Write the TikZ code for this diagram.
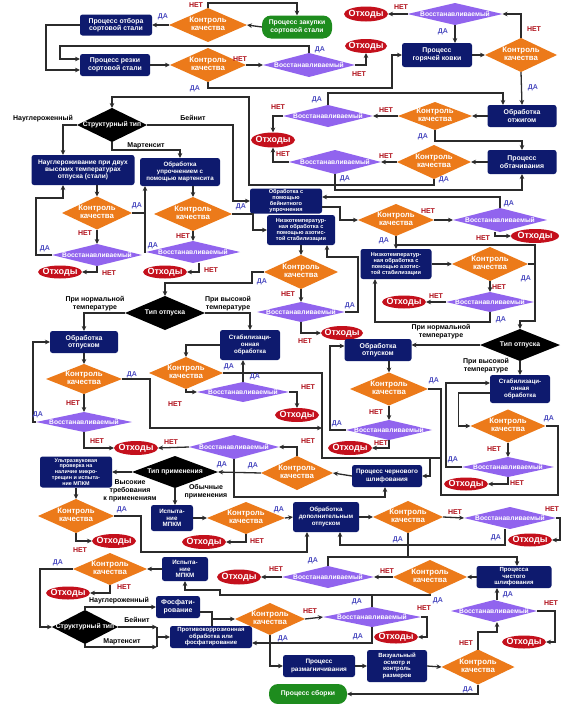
\documentclass[tikz,border=0pt]{standalone}
\usepackage{fontspec}
\setmainfont{Liberation Sans}
\usetikzlibrary{shapes.geometric,arrows.meta,calc}
\definecolor{navy}{HTML}{0E1A6E}
\definecolor{org}{HTML}{EC7A1A}
\definecolor{prp}{HTML}{9164EE}
\definecolor{wred}{HTML}{C4101C}
\definecolor{grn}{HTML}{1E8C1E}
\definecolor{lgray}{HTML}{2B2B2B}
\definecolor{yblue}{HTML}{4B4BC0}
\definecolor{nred}{HTML}{B0101A}
\newcommand{\zc}[1]{\makebox[0pt]{\begin{tabular}{@{}c@{}}#1\end{tabular}}}
\newcommand{\qctext}{\zc{Контроль\\качества}}
\newcommand{\rsttext}{\makebox[0pt]{Восстанавливаемый}}
\newcommand{\wtext}{\makebox[0pt]{Отходы}}
\tikzset{
  wh/.style 2 args={minimum width=#1pt, minimum height=#2pt},
  base/.style={inner sep=0pt, outer sep=0pt, align=center, text=white},
  box/.style={base, rectangle, rounded corners=2.5pt, fill=navy, font=\bfseries\fontsize{6.9}{7.6}\selectfont},
  mbox/.style={box, font=\bfseries\fontsize{6.4}{7.2}\selectfont},
  sbox/.style={box, font=\bfseries\fontsize{6.2}{6.7}\selectfont},
  tbox/.style={box, font=\bfseries\fontsize{5.6}{6}\selectfont},
  gbox/.style={box, fill=grn, rounded corners=9pt, font=\bfseries\fontsize{6.8}{7.6}\selectfont},
  qc/.style={base, diamond, shape aspect=2.5, fill=org, font=\bfseries\fontsize{7.8}{8.4}\selectfont},
  rst/.style={base, diamond, shape aspect=4, fill=prp, font=\bfseries\fontsize{6.7}{7}\selectfont},
  typ/.style={base, diamond, shape aspect=2, fill=black, font=\bfseries\fontsize{6.8}{7.4}\selectfont},
  waste/.style={base, ellipse, fill=wred, font=\bfseries\fontsize{9}{9.5}\selectfont},
  yes/.style={inner sep=0pt, text=yblue, font=\bfseries\fontsize{7}{8}\selectfont},
  no/.style={inner sep=0pt, text=nred, font=\bfseries\fontsize{7}{8}\selectfont},
  lbl/.style={inner sep=0pt, align=center, font=\bfseries\fontsize{7}{7.8}\selectfont},
  ln/.style={draw=lgray, line width=1.3pt},
  arr/.style={ln, -{Stealth[length=5pt,width=4.6pt]}},
}
\begin{document}
\begin{tikzpicture}[x=1pt,y=-1pt]
\fill[white] (0,0) rectangle (562,704);
\useasboundingbox (0,0) rectangle (562,704);

% ---------- nodes: top ----------
\node[box,wh={72}{21}] (B1) at (116,25) {Процесс отбора\\сортовой стали};
\node[gbox,wh={70}{23}] (G1) at (297,27) {Процесс закупки\\сортовой стали};
\node[qc,wh={78}{34}] (D1) at (208,25) {\qctext};
\node[waste,wh={44}{15}] (R1) at (366,14) {\wtext};
\node[rst,wh={95}{22}] (P1) at (455,14) {\rsttext};
\node[box,wh={70}{22}] (B2) at (115,65) {Процесс резки\\сортовой стали};
\node[qc,wh={76}{34}] (D2) at (208,65) {\qctext};
\node[rst,wh={92}{24}] (P2) at (309,65) {\rsttext};
\node[waste,wh={42}{14}] (R2) at (366,46) {\wtext};
\node[box,wh={70}{24}] (B3) at (437,55) {Процесс\\горячей ковки};
\node[qc,wh={72}{34}] (D3) at (521,55) {\qctext};
\node[box,wh={69}{22}] (B4) at (522,116) {Обработка\\отжигом};
\node[qc,wh={74}{28}] (D4) at (435,116) {\qctext};
\node[rst,wh={90}{22}] (P3) at (328,116) {\rsttext};
\node[waste,wh={44}{15}] (R3) at (273,140) {\wtext};
\node[rst,wh={92}{24}] (P4) at (335,162) {\rsttext};
\node[qc,wh={74}{34}] (D5) at (434,162) {\qctext};
\node[box,wh={69}{24}] (B5) at (522,162) {Процесс\\обтачивания};

% ---------- structural type ----------
\node[typ,wh={70}{34}] (K1) at (112,125) {\makebox[0pt]{Структурный тип}};
\node[box,wh={103}{30},font=\bfseries\fontsize{6.6}{7.4}\selectfont] (B6) at (83,170) {Науглероживание при двух\\высоких температурах\\отпуска (стали)};
\node[sbox,wh={80}{28}] (B7) at (180,172) {Обработка\\упрочнением с\\помощью мартенсита};
\node[tbox,wh={72}{25}] (B8) at (286,201) {Обработка с\\помощью\\бейнитного\\упрочнения};
\node[qc,wh={70}{33}] (D6) at (97,213) {\qctext};
\node[rst,wh={90}{22}] (P6) at (97,255) {\rsttext};
\node[waste,wh={44}{13}] (R4) at (60,272) {\wtext};
\node[qc,wh={78}{34}] (D7) at (193,214) {\qctext};
\node[rst,wh={94}{22}] (P7) at (193,252) {\rsttext};
\node[waste,wh={44}{13}] (R5) at (165,272) {\wtext};
\node[tbox,wh={68}{30}] (B9) at (301,230) {Низкотемператур-\\ная обработка с\\помощью азотис-\\той стабилизации};
\node[qc,wh={74}{34}] (D8) at (301,272) {\qctext};
\node[rst,wh={88}{20}] (P8) at (301,312) {\rsttext};
\node[waste,wh={42}{14}] (R6) at (342,333) {\wtext};
\node[qc,wh={76}{32}] (D9) at (396,220) {\qctext};
\node[rst,wh={94}{24}] (P5) at (500,220) {\rsttext};
\node[waste,wh={48}{14}] (R7) at (535,236) {\wtext};
\node[tbox,wh={71}{30}] (B10) at (396,264) {Низкотемператур-\\ная обработка с\\помощью азотис-\\той стабилизации};
\node[qc,wh={76}{34}] (D10) at (490,264) {\qctext};
\node[rst,wh={88}{20}] (P9) at (490,302) {\rsttext};
\node[waste,wh={44}{13}] (R8) at (404,302) {\wtext};

% ---------- tempering left ----------
\node[typ,wh={80}{34}] (K2) at (165,313) {\makebox[0pt]{Тип отпуска}};
\node[box,wh={68}{22}] (B11) at (84,342) {Обработка\\отпуском};
\node[sbox,wh={60}{30}] (B12) at (250,345) {Стабилизаци-\\онная\\обработка};
\node[qc,wh={76}{30}] (D11) at (84,379) {\qctext};
\node[qc,wh={74}{32}] (D21) at (186,373) {\qctext};
\node[rst,wh={96}{20}] (P10) at (84,422) {\rsttext};
\node[rst,wh={92}{20}] (P17) at (243,392) {\rsttext};
\node[waste,wh={44}{14}] (R19) at (297,415) {\wtext};
\node[waste,wh={44}{14}] (R9) at (136,448) {\wtext};
\node[rst,wh={90}{24}] (P11) at (234,447) {\rsttext};
\node[typ,wh={86}{32}] (K4) at (175,472) {\makebox[0pt]{Тип применения}};
\node[qc,wh={72}{34}] (D12) at (297,473) {\qctext};
\node[mbox,wh={70}{22}] (B13) at (387,476) {Процесс чернового\\шлифования};

% ---------- tempering right ----------
\node[typ,wh={80}{32}] (K3) at (520,345) {\makebox[0pt]{Тип отпуска}};
\node[box,wh={67}{22}] (B24) at (378,350) {Обработка\\отпуском};
\node[sbox,wh={60}{28}] (B25) at (520,389) {Стабилизаци-\\онная\\обработка};
\node[qc,wh={78}{33}] (D20) at (389,389) {\qctext};
\node[rst,wh={86}{20}] (P16) at (389,430) {\rsttext};
\node[waste,wh={44}{14}] (R18) at (350,448) {\wtext};
\node[qc,wh={75}{33}] (D22) at (508,426) {\qctext};
\node[rst,wh={92}{20}] (P18) at (508,467) {\rsttext};
\node[waste,wh={44}{13}] (R20) at (466,484) {\wtext};

% ---------- lower part ----------
\node[tbox,wh={72}{31},font=\bfseries\fontsize{5.4}{5.9}\selectfont] (B14) at (76,472) {Ультразвуковая\\проверка на\\наличие микро-\\трещин и испыта-\\ние МПКМ};
\node[sbox,wh={42}{26}] (B15) at (172,518) {Испыта-\\ние\\МПКМ};
\node[qc,wh={76}{34}] (D13) at (76,516) {\qctext};
\node[waste,wh={44}{14}] (R10) at (114,541) {\wtext};
\node[qc,wh={78}{32}] (D14) at (246,518) {\qctext};
\node[waste,wh={44}{14}] (R11) at (204,542) {\wtext};
\node[sbox,wh={66}{30}] (B17) at (326,517) {Обработка\\дополнительным\\отпуском};
\node[qc,wh={70}{32}] (D15) at (408,517) {\qctext};
\node[rst,wh={92}{22}] (P12) at (510,518) {\rsttext};
\node[waste,wh={44}{13}] (R12) at (530,540) {\wtext};
\node[sbox,wh={46}{24}] (B16) at (185,569) {Испыта-\\ние\\МПКМ};
\node[qc,wh={74}{32}] (D18) at (110,569) {\qctext};
\node[rst,wh={92}{22}] (P13) at (328,577) {\rsttext};
\node[waste,wh={44}{15}] (R13) at (239,577) {\wtext};
\node[qc,wh={74}{34}] (D16) at (430,577) {\qctext};
\node[sbox,wh={75}{22},font=\bfseries\fontsize{6}{6.5}\selectfont] (B18) at (514,577) {Процесса\\чистого\\шлифования};
\node[waste,wh={44}{13}] (R15) at (68,593) {\wtext};
\node[typ,wh={66}{34}] (K5) at (85,627) {\makebox[0pt]{Структурный тип}};
\node[box,wh={44}{22}] (B20) at (178,607) {Фосфати-\\рование};
\node[sbox,wh={82}{22},font=\bfseries\fontsize{6}{6.5}\selectfont] (B21) at (211,637) {Противокоррозионная\\обработка или\\фосфатирование};
\node[qc,wh={70}{32}] (D17) at (270,619) {\qctext};
\node[rst,wh={98}{20}] (P14) at (372,617) {\rsttext};
\node[waste,wh={44}{13}] (R14) at (396,637) {\wtext};
\node[rst,wh={86}{22}] (P15) at (494,611) {\rsttext};
\node[waste,wh={44}{13}] (R16) at (524,642) {\wtext};
\node[mbox,wh={72}{22}] (B22) at (319,666) {Процесс\\размагничивания};
\node[tbox,wh={60}{32},font=\bfseries\fontsize{6}{6.6}\selectfont] (B23) at (397,666) {Визуальный\\осмотр и\\контроль\\размеров};
\node[qc,wh={73}{35}] (D19) at (478,667) {\qctext};
\node[gbox,wh={78}{20}] (G2) at (308,694) {Процесс сборки};

% ---------- junction coordinates ----------
\coordinate (bus1) at (322,428);
\coordinate (bus2) at (441,458);
\coordinate (j557) at (408,557);
\coordinate (j595) at (372,595);
\coordinate (jb) at (157,627);
\coordinate (jm) at (157,647);
\coordinate (jc) at (157,637);
\coordinate (jd) at (212,619);

% ---------- connectors: top ----------
\draw[arr] (G1.west) -- (D1.east);
\draw[arr] (D1.west) -- (B1.east);
\draw[arr] (D1.north) -- ++(0,-5) -| (G1.north);
\draw[arr] (B1.west) -- ++(-34,0) |- ($(B2.west)+(0,5)$);
\draw[arr] (P2.north) |- (60,46) |- ($(B2.west)+(0,-6)$);
\draw[arr] (B2.east) -- (D2.west);
\draw[arr] (D2.east) -- (P2.west);
\draw[arr] (P2.east) -| (R2.south);
\draw[arr] (D2.south) |- (392,88) |- (B3.west);
\draw[arr] (P1.west) -- (R1.east);
\draw[arr] (P1.south) -- (P1.south |- B3.north);
\draw[arr] (B3.east) -- (D3.west);
\draw[arr] (D3.north) |- (P1.east);
\draw[arr] (D3.south) -- (B4.north);
\draw[arr] (B4.west) -- (D4.east);
\draw[arr] (D4.west) -- (P3.east);
\draw[arr] (P3.west) -| (R3.north);
\draw[arr] (P3.north) |- ($(B4.north)+(-19,-12)$) -- ($(B4.north)+(-19,0)$);
\draw[arr] (D4.south) |- ($(B5.north)+(0,-9)$) -- (B5.north);
\draw[arr] (B5.west) -- (D5.east);
\draw[arr] (D5.west) -- (P4.east);
\draw[arr] (P4.west) -| (R3.south);
\draw[arr] (P4.south) |- ($(B5.south)+(0,16)$) -- (B5.south);
\draw[arr] (D5.south) -- ++(0,6) -| (249,97) -| (K1.north);

% ---------- structural type branches ----------
\draw[arr] (K1.west) -| ($(B6.north)+(-20,0)$);
\draw[arr] (K1.south) |- ($(B7.north)+(0,-8)$) -- (B7.north);
\draw[arr] (K1.east) -| ($(B8.west)+(-17,0)$) -- (B8.west);
\draw[arr] (B6.south -| D6.north) -- (D6.north);
\draw[arr] (D6.south) -- (P6.north);
\draw[arr] (P6.west) -- ++(-16,0) |- ($(B6.south)+(-20,13)$) -- ($(B6.south)+(-20,0)$);
\draw[arr] (P6.south) |- (R4.east);
\draw[arr] (D6.east) -| ($(B7.south)+(-35,0)$);
\draw[arr] (B7.south -| D7.north) -- (D7.north);
\draw[arr] (D7.south) -- (P7.north);
\draw[ln] (P7.west) -| ($(B7.south)+(-35,27)$);
\draw[arr] ($(P7.south)+(6,0)$) |- (R5.east);
\draw[arr] (D7.east) -| ($(B9.west)+(-14,0)$) -- (B9.west);
\draw[arr] (B9.south) -- (D8.north);
\draw[arr] (D8.west) -- ++(-12,0) |- ($(K2.north)+(0,-13)$) -- (K2.north);
\draw[arr] (D8.south) -- (P8.north);
\draw[arr] (P8.east) -| ($(B9.south)+(57,12)$) -| ($(B9.south)+(26,0)$);
\draw[arr] (P8.south) |- (R6.west);
\draw[arr] ($(B8.east)+(0,6)$) -| ($(D9.west)+(-18,0)$) -- (D9.west);
\draw[arr] (D9.east) -- (P5.west);
\draw[arr] ($(P5.south)+(-5,0)$) |- (R7.west);
\draw[arr] (P5.north) |- ($(B8.east)+(0,-4)$);
\draw[arr] (D9.south) -- (B10.north);
\draw[ln] ($(D9.south)+(0,9)$) -- ++(139,0) -- ++(0,19);
\draw[arr] (B10.east) -- (D10.west);
\draw[arr] (D10.south) -- (P9.north);
\draw[arr] (P9.west) -- (R8.east);
\draw[arr] (P9.south) |- ($(B10.south)+(-21,43)$) -- ($(B10.south)+(-21,0)$);
\draw[arr] (D10.east) -- ++(7,0) |- ($(K3.north)+(0,-8)$) -- (K3.north);

% ---------- tempering left ----------
\draw[arr] (K2.west) -| (B11.north);
\draw[arr] (K2.east) -| (B12.north);
\draw[arr] (B11.south) -- (D11.north);
\draw[arr] (D11.south) -- (P10.north);
\draw[arr] (P10.west) -- ++(-3,0) |- (B11.west);
\draw[arr] (P10.south) |- (R9.west);
\draw[arr] (D11.east) -| (150,428) -- (bus1);
\draw[arr] (B12.west) -| (D21.north);
\draw[arr] (D21.south) |- (P17.west);
\draw[arr] (P17.north) -- (P17.north |- B12.south);
\draw[arr] (P17.east) -| (R19.north);
\draw[arr] (D21.east) -| (322,458) -| ($(B13.east)+(8,0)$) -- (B13.east);
\draw[arr] (P11.west) -- (R9.east);
\draw[arr] (D12.north) |- (P11.east);
\draw[arr] (P11.south) |- ($(B13.south)+(-2,10)$) -- ($(B13.south)+(-2,0)$);
\draw[arr] (B13.west) -- (D12.east);
\draw[arr] (D12.west) -- (K4.east);
\draw[arr] (K4.west) -- (B14.east);
\draw[arr] (K4.south) -- (K4.south |- B15.north);

% ---------- tempering right ----------
\draw[arr] (K3.west) -- (K3.west -| B24.east);
\draw[arr] (K3.south) -- (B25.north);
\draw[arr] (B24.south -| D20.north) -- (D20.north);
\draw[arr] (D20.south) -- (P16.north);
\draw[arr] (P16.west) -- ++(-16,0) |- ($(B24.west)+(0,-4)$);
\draw[arr] (P16.south) |- (R18.east);
\draw[ln] (D20.east) -| (bus2) -- ($(B13.east)+(8,-18)$);
\draw[arr] ($(B25.west)+(0,4)$) -| ($(D22.west)+(-12,0)$) -- (D22.west);
\draw[arr] (P18.west) -| ($(B25.west)+(-44,-6)$) -- ($(B25.west)+(0,-6)$);
\draw[arr] (D22.south) -- (P18.north);
\draw[arr] (P18.south) |- (R20.east);
\draw[ln] (D22.east) -| (558,495) -| (bus2);

% ---------- lower part ----------
\draw[arr] (B14.south) -- (D13.north);
\draw[arr] (D13.east) -- ++(27,0) |- ($(B17.south)+(-19,20)$) -- ($(B17.south)+(-19,0)$);
\draw[arr] (D13.south) |- (R10.west);
\draw[arr] (B15.east) -- (D14.west);
\draw[arr] (D14.east) -- (B17.west);
\draw[arr] (D14.south) |- (R11.east);
\draw[arr] (B17.east) -- (D15.west);
\draw[arr] (D15.east) -- (P12.west);
\draw[arr] (P12.east) -- ++(4,0) |- (R12.east);
\draw[arr] ($(P12.south)+(-5,0)$) |- ($(B17.south)+(14,13)$) -- ($(B17.south)+(14,0)$);
\draw[arr] (D15.south) |- ($(B18.north)+(3,-9)$) -- ($(B18.north)+(3,0)$);
\draw[ln] (P13.north) |- (j557);
\draw[arr] (B18.west) -- (D16.east);
\draw[arr] (D16.west) -- (P13.east);
\draw[arr] (P13.west) -- (R13.east);
\draw[arr] (D16.south) |- ($(B16.south)+(35,14)$) |- ($(B16.south)+(0,9)$) -- (B16.south);
\draw[ln] (P14.north) -- (j595);
\draw[arr] (B16.west) -- (D18.east);
\draw[arr] (D18.west) -- ++(-33,0) |- (K5.west);
\draw[arr] (D18.south) |- (R15.east);
\draw[arr] (K5.north) |- (B20.west);
\draw[arr] (K5.east) -- (jb);
\draw[arr] (K5.south) |- (jm);
\draw[ln] (jb) -- (jm);
\draw[arr] (jc) -- (B21.west);
\draw[ln] ($(B20.east)+(0,5)$) -| (jd);
\draw[ln] (B21.north -| jd) -- (jd);
\draw[arr] (jd) -- (D17.west);
\draw[arr] (D17.east) -- (P14.west);
\draw[arr] (P14.south) |- ($(B21.east)+(0,6)$);
\draw[arr] (P14.east) -- ++(6,0) |- (R14.east);
\draw[arr] (D17.south) |- (B22.west);
\draw[arr] (B22.east) -- (B23.west);
\draw[arr] (B23.east) -- (D19.west);
\draw[arr] (D19.north) |- ($(P15.south)+(3,10)$) -- ($(P15.south)+(3,0)$);
\draw[arr] ($(P15.north)+(3,0)$) -- ($(B18.south)+(-17,0)$);
\draw[arr] (P15.east) -- ++(18,0) |- (R16.east);
\draw[arr] (D19.south) |- (G2.east);

% ---------- labels ----------
\node[yes] (a1) at (163,17) {ДА};
\node[no] (a2) at (196,5) {НЕТ};
\node[yes] (a3) at (320,50) {ДА};
\node[no] (a4) at (240,59) {НЕТ};
\node[no] (a5) at (359,74) {НЕТ};
\node[yes] (a6) at (195,89) {ДА};
\node[no] (a7) at (401,7) {НЕТ};
\node[yes] (a8) at (443,32) {ДА};
\node[no] (a9) at (534,29) {НЕТ};
\node[yes] (a10) at (533,88) {ДА};
\node[no] (a11) at (386,110) {НЕТ};
\node[no] (a12) at (278,107) {НЕТ};
\node[yes] (a13) at (317,100) {ДА};
\node[yes] (a14) at (423,137) {ДА};
\node[no] (a15) at (386,156) {НЕТ};
\node[no] (a16) at (283,154) {НЕТ};
\node[yes] (a17) at (345,179) {ДА};
\node[yes] (a18) at (444,180) {ДА};
\node[lbl] (a19) at (43,119) {Науглероженный};
\node[lbl] (a20) at (193,118) {Бейнит};
\node[lbl] (a21) at (146,146) {Мартенсит};
\node[yes] (a22) at (137,206) {ДА};
\node[no] (a23) at (85,233) {НЕТ};
\node[yes] (a24) at (45,249) {ДА};
\node[no] (a25) at (109,273) {НЕТ};
\node[no] (a26) at (183,236) {НЕТ};
\node[yes] (a27) at (153,246) {ДА};
\node[no] (a28) at (211,270) {НЕТ};
\node[yes] (a29) at (241,207) {ДА};
\node[yes] (a30) at (262,282) {ДА};
\node[no] (a31) at (288,294) {НЕТ};
\node[yes] (a32) at (350,306) {ДА};
\node[no] (a33) at (305,341) {НЕТ};
\node[no] (a34) at (428,211) {НЕТ};
\node[no] (a35) at (483,238) {НЕТ};
\node[yes] (a36) at (509,204) {ДА};
\node[yes] (a37) at (384,241) {ДА};
\node[no] (a38) at (499,287) {НЕТ};
\node[no] (a39) at (436,296) {НЕТ};
\node[yes] (a40) at (501,320) {ДА};
\node[yes] (a41) at (526,279) {ДА};
\node[lbl] (a42) at (95,304) {При нормальной\\температуре};
\node[lbl] (a43) at (228,304) {При высокой\\температуре};
\node[yes] (a44) at (132,375) {ДА};
\node[no] (a45) at (73,403) {НЕТ};
\node[yes] (a46) at (38,415) {ДА};
\node[no] (a47) at (97,441) {НЕТ};
\node[yes] (a48) at (229,367) {ДА};
\node[no] (a49) at (175,404) {НЕТ};
\node[yes] (a50) at (255,377) {ДА};
\node[no] (a51) at (308,387) {НЕТ};
\node[no] (a52) at (171,442) {НЕТ};
\node[no] (a53) at (308,441) {НЕТ};
\node[yes] (a54) at (222,465) {ДА};
\node[yes] (a55) at (253,466) {ДА};
\node[lbl] (a56) at (130,491) {Высокие\\требования\\к применениям};
\node[lbl] (a57) at (206,492) {Обычные\\применения};
\node[lbl] (a58) at (441,332) {При нормальной\\температуре};
\node[lbl] (a59) at (486,366) {При высокой\\температуре};
\node[yes] (a60) at (434,381) {ДА};
\node[no] (a61) at (376,412) {НЕТ};
\node[yes] (a62) at (337,424) {ДА};
\node[no] (a63) at (381,443) {НЕТ};
\node[yes] (a64) at (549,419) {ДА};
\node[no] (a65) at (494,449) {НЕТ};
\node[yes] (a66) at (453,460) {ДА};
\node[no] (a67) at (517,483) {НЕТ};
\node[yes] (a68) at (122,510) {ДА};
\node[no] (a69) at (80,550) {НЕТ};
\node[yes] (a70) at (279,510) {ДА};
\node[no] (a71) at (257,541) {НЕТ};
\node[no] (a72) at (455,512) {НЕТ};
\node[no] (a73) at (552,509) {НЕТ};
\node[yes] (a74) at (496,538) {ДА};
\node[yes] (a75) at (398,540) {ДА};
\node[yes] (a76) at (313,561) {ДА};
\node[no] (a77) at (387,571) {НЕТ};
\node[no] (a78) at (276,569) {НЕТ};
\node[yes] (a79) at (438,601) {ДА};
\node[yes] (a80) at (357,602) {ДА};
\node[yes] (a81) at (58,563) {ДА};
\node[no] (a82) at (124,587) {НЕТ};
\node[lbl] (a83) at (119,601) {Науглероженный};
\node[lbl] (a84) at (137,620) {Бейнит};
\node[lbl] (a85) at (122,642) {Мартенсит};
\node[no] (a86) at (310,611) {НЕТ};
\node[yes] (a87) at (358,637) {ДА};
\node[no] (a88) at (424,608) {НЕТ};
\node[yes] (a89) at (283,639) {ДА};
\node[no] (a90) at (466,643) {НЕТ};
\node[yes] (a91) at (508,595) {ДА};
\node[no] (a92) at (551,603) {НЕТ};
\node[yes] (a93) at (468,690) {ДА};
\end{tikzpicture}
\end{document}
